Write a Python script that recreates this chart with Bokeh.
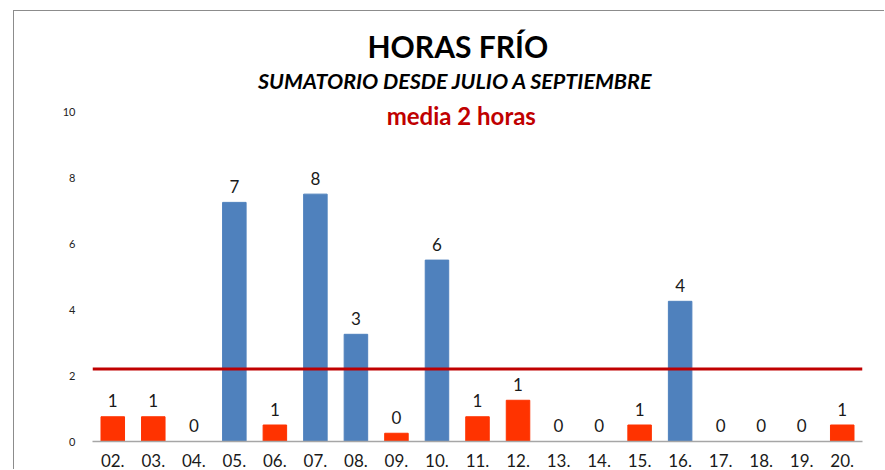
from bokeh.plotting import figure
from bokeh.models import FactorRange, Range1d, Span, Label, Title, ColumnDataSource, FixedTicker
from bokeh.core.properties import value
from bokeh.embed import file_html
from bokeh.resources import INLINE

# ---- data ----
stations = ["02.", "03.", "04.", "05.", "06.", "07.", "08.", "09.", "10.", "11.",
            "12.", "13.", "14.", "15.", "16.", "17.", "18.", "19.", "20."]
cold_hours = [0.75, 0.75, 0, 7.25, 0.5, 7.5, 3.25, 0.25, 5.5, 0.75,
              1.25, 0, 0, 0.5, 4.25, 0, 0, 0, 0.5]
hour_labels = ["1", "1", "0", "7", "1", "8", "3", "0", "6", "1",
               "1", "0", "0", "1", "4", "0", "0", "0", "1"]
mean_hours = 2.2
y_ticks = [0, 2, 4, 6, 8, 10]

BLUE = "#4F81BD"
RED = "#FF3300"
DARKRED = "#C00000"
FONT = "Lato"

colors = [BLUE if h > mean_hours else RED for h in cold_hours]
src = ColumnDataSource(dict(cat=stations, hours=cold_hours, label=hour_labels, color=colors))

p = figure(x_range=FactorRange(*stations), y_range=Range1d(0, 11.4),
           width=871, height=459, output_backend="svg", toolbar_location=None,
           title=None, min_border_left=78, min_border_right=23,
           min_border_top=54, min_border_bottom=29)
p.margin = (10, 0, 0, 13)
p.styles = {"border-left": "1px solid #8c8c8c", "border-top": "1px solid #8c8c8c"}

p.vbar(x="cat", top="hours", width=0.58, color="color", source=src)
p.text(x="cat", y="hours", text="label", source=src, text_align="center",
       text_baseline="alphabetic", y_offset=-16, text_font=value(FONT),
       text_font_size="17px", text_color="#1a1a1a")

p.add_layout(Span(location=mean_hours, dimension="width", line_color=DARKRED, line_width=3))

p.add_layout(Label(x=9.1, y=9.88, text="media 2 horas", text_align="center",
                   text_baseline="alphabetic", text_color=DARKRED, text_font=FONT,
                   text_font_size="24px", text_font_style="bold"))
p.add_layout(Label(x=8.96, y=10.94, text="SUMATORIO DESDE JULIO A SEPTIEMBRE",
                   text_align="center", text_baseline="alphabetic", text_color="#000000",
                   text_font=FONT, text_font_size="21.5px", text_font_style="bold italic"))

main = Title(text="HORAS FRÍO", align="left", offset=275, text_font=FONT,
             text_font_size="30px", text_font_style="bold", text_color="#000000", standoff=4)
p.add_layout(main, "above")

p.xgrid.grid_line_color = None
p.ygrid.grid_line_color = None
p.outline_line_color = None

p.xaxis.axis_line_color = "#a6a6a6"
p.xaxis.axis_line_width = 1.5
p.xaxis.major_tick_line_color = None
p.xaxis.minor_tick_line_color = None
p.xaxis.major_label_standoff = 6
p.xaxis.major_label_text_font = FONT
p.xaxis.major_label_text_font_size = "17px"
p.xaxis.major_label_text_color = "#1a1a1a"

p.yaxis.ticker = FixedTicker(ticks=y_ticks)
p.yaxis.axis_line_color = None
p.yaxis.major_tick_line_color = None
p.yaxis.minor_tick_line_color = None
p.yaxis.major_label_standoff = 11
p.yaxis.major_label_text_font = FONT
p.yaxis.major_label_text_font_size = "11px"
p.yaxis.major_label_text_color = "#222222"

open("out.html", "w").write(file_html(p, INLINE))
